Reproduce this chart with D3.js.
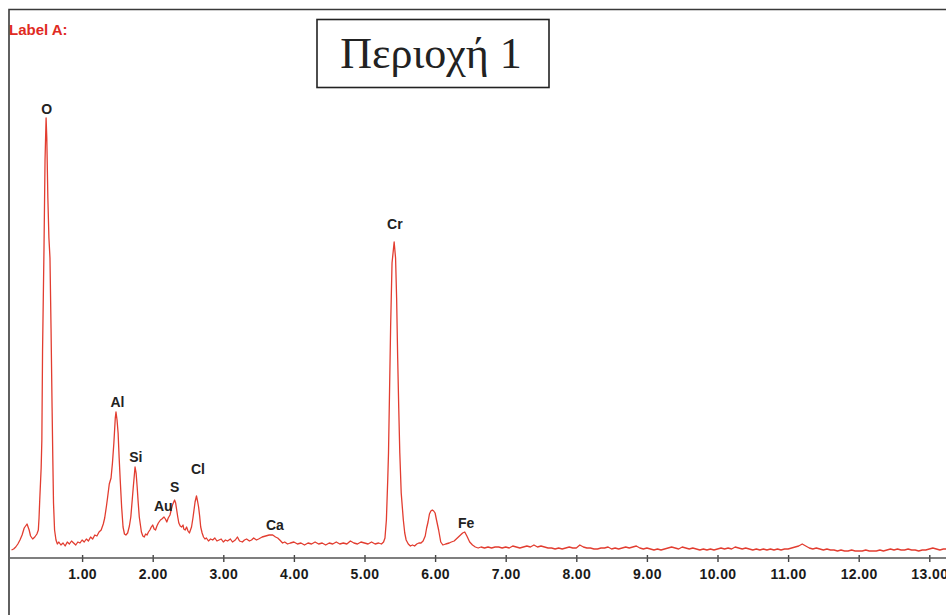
<!DOCTYPE html>
<html>
<head>
<meta charset="utf-8">
<script src="https://cdn.jsdelivr.net/npm/d3@7"></script>
<style>
  body { margin: 0; background: #fff; }
  svg { display: block; }
</style>
</head>
<body>
<script>
'use strict';

// EDS spectrum: energy (keV) and counts
const energy = [
  0.00, 0.03, 0.06, 0.09, 0.12, 0.15, 0.18, 0.22, 0.25, 0.27, 0.30, 0.33, 0.36, 0.38, 0.39, 0.40,
  0.42, 0.43, 0.44, 0.46, 0.475, 0.49, 0.50, 0.515, 0.53, 0.545, 0.56, 0.575, 0.585, 0.595, 0.61,
  0.63, 0.65, 0.67, 0.70, 0.73, 0.76, 0.79, 0.82, 0.85, 0.88, 0.91, 0.94, 0.97, 1.00, 1.03, 1.06,
  1.09, 1.12, 1.15, 1.18, 1.21, 1.24, 1.27, 1.30, 1.32, 1.345, 1.36, 1.385, 1.41, 1.43, 1.45, 1.47,
  1.48, 1.495, 1.51, 1.525, 1.54, 1.56, 1.58, 1.60, 1.62, 1.645, 1.67, 1.69, 1.71, 1.725, 1.75,
  1.765, 1.78, 1.795, 1.81, 1.84, 1.86, 1.88, 1.90, 1.92, 1.94, 1.96, 1.98, 2.00, 2.02, 2.04, 2.06,
  2.08, 2.11, 2.13, 2.16, 2.18, 2.20, 2.22, 2.245, 2.265, 2.28, 2.31, 2.325, 2.34, 2.355, 2.37,
  2.39, 2.41, 2.43, 2.44, 2.46, 2.48, 2.50, 2.52, 2.535, 2.55, 2.57, 2.585, 2.60, 2.62, 2.635, 2.65,
  2.665, 2.68, 2.70, 2.72, 2.74, 2.76, 2.79, 2.82, 2.85, 2.88, 2.91, 2.94, 2.97, 3.00, 3.03, 3.06,
  3.10, 3.13, 3.17, 3.20, 3.23, 3.27, 3.30, 3.33, 3.37, 3.40, 3.43, 3.47, 3.50, 3.55, 3.60, 3.65,
  3.70, 3.74, 3.77, 3.80, 3.84, 3.87, 3.91, 3.95, 4.00, 4.05, 4.10, 4.15, 4.20, 4.25, 4.30, 4.35,
  4.40, 4.45, 4.50, 4.55, 4.60, 4.65, 4.70, 4.75, 4.80, 4.85, 4.90, 4.95, 5.00, 5.05, 5.10, 5.15,
  5.20, 5.24, 5.27, 5.29, 5.31, 5.33, 5.34, 5.355, 5.37, 5.39, 5.42, 5.44, 5.455, 5.47, 5.485, 5.50,
  5.52, 5.55, 5.57, 5.59, 5.62, 5.65, 5.68, 5.71, 5.74, 5.77, 5.80, 5.83, 5.86, 5.88, 5.90, 5.92,
  5.94, 5.96, 5.98, 6.00, 6.02, 6.05, 6.08, 6.11, 6.15, 6.20, 6.23, 6.27, 6.30, 6.33, 6.36, 6.39,
  6.42, 6.45, 6.49, 6.53, 6.57, 6.61, 6.65, 6.70, 6.75, 6.80, 6.85, 6.90, 6.95, 7.00, 7.05, 7.10,
  7.15, 7.20, 7.25, 7.30, 7.35, 7.40, 7.45, 7.50, 7.55, 7.60, 7.65, 7.70, 7.75, 7.80, 7.85, 7.90,
  7.95, 8.00, 8.05, 8.10, 8.15, 8.20, 8.25, 8.30, 8.35, 8.40, 8.45, 8.50, 8.55, 8.60, 8.65, 8.70,
  8.75, 8.80, 8.85, 8.90, 8.95, 9.00, 9.05, 9.10, 9.15, 9.20, 9.25, 9.30, 9.35, 9.40, 9.45, 9.50,
  9.55, 9.60, 9.65, 9.70, 9.75, 9.80, 9.85, 9.90, 9.95, 10.00, 10.05, 10.10, 10.15, 10.20, 10.25,
  10.30, 10.35, 10.40, 10.45, 10.50, 10.55, 10.60, 10.65, 10.70, 10.75, 10.80, 10.85, 10.90, 10.95,
  11.00, 11.05, 11.10, 11.15, 11.20, 11.25, 11.30, 11.35, 11.40, 11.45, 11.50, 11.55, 11.60, 11.65,
  11.70, 11.75, 11.80, 11.85, 11.90, 11.95, 12.00, 12.05, 12.10, 12.15, 12.20, 12.25, 12.30, 12.35,
  12.40, 12.45, 12.50, 12.55, 12.60, 12.65, 12.70, 12.75, 12.80, 12.85, 12.90, 12.95, 13.00, 13.05,
  13.10, 13.15, 13.20, 13.25
];
const counts = [
  8, 9, 11, 14, 18, 23, 30, 34, 28, 22, 19, 21, 24, 28, 40, 58,
  90, 118, 208, 308, 398, 440, 420, 360, 320, 300, 230, 150, 100, 55, 28,
  18, 14, 16, 13, 15, 12, 16, 14, 17, 15, 13, 16, 15, 18, 16, 19,
  17, 21, 19, 23, 22, 26, 28, 34, 40, 52, 60, 74, 80, 95, 115, 140,
  146, 138, 125, 100, 78, 51, 31, 24, 23, 25, 32, 41, 58, 71, 91,
  85, 71, 55, 41, 26, 22, 21, 24, 23, 26, 28, 31, 33, 29, 28, 32,
  35, 38, 39, 41, 39, 36, 40, 43, 49, 53, 58, 55, 48, 41, 35,
  32, 31, 33, 29, 28, 31, 27, 25, 28, 31, 40, 48, 56, 62, 57, 51,
  42, 31, 25, 21, 19, 20, 17, 19, 18, 20, 17, 18, 19, 16, 18, 17,
  19, 16, 18, 21, 17, 16, 18, 19, 17, 18, 20, 18, 19, 21, 22, 23,
  23, 21, 20, 18, 15, 16, 14, 15, 16, 14, 15, 13, 15, 14, 16, 14,
  15, 13, 15, 14, 16, 14, 15, 14, 17, 15, 14, 16, 15, 14, 16, 14,
  15, 14, 16, 20, 38, 80, 105, 168, 231, 295, 316, 300, 260, 200, 150, 105,
  65, 38, 25, 18, 14, 12, 13, 12, 14, 15, 15, 17, 22, 30, 36, 44,
  47, 48, 47, 45, 38, 28, 16, 13, 14, 15, 16, 17, 19, 21, 23, 25,
  26, 22, 16, 13, 11, 10, 11, 10, 11, 10, 11, 11, 10, 11, 10, 12,
  11, 10, 11, 12, 11, 13, 11, 12, 11, 10, 10, 9, 10, 9, 10, 11,
  10, 10, 13, 11, 10, 10, 9, 9, 10, 10, 11, 9, 10, 9, 10, 11,
  10, 11, 12, 10, 9, 10, 9, 8, 9, 8, 9, 10, 11, 10, 9, 11,
  10, 9, 10, 9, 8, 9, 8, 9, 8, 9, 10, 9, 10, 9, 11,
  10, 9, 10, 9, 8, 9, 8, 9, 8, 9, 8, 9, 8, 9,
  9, 10, 11, 12, 14, 12, 10, 9, 10, 9, 8, 9, 8, 8,
  7, 8, 7, 7, 8, 7, 7, 7, 8, 7, 7, 7, 8, 7,
  8, 9, 8, 9, 8, 8, 9, 8, 8, 7, 8, 8, 9, 10,
  9, 8, 9, 9
];

// element labels: name, energy and count where the label sits
const elements = ['O', 'Al', 'Si', 'Au', 'S', 'Cl', 'Ca', 'Cr', 'Fe'];
const elementEnergy = [0.50, 1.50, 1.76, 2.15, 2.31, 2.64, 3.73, 5.43, 6.44];
const elementCounts = [444, 151, 96, 47, 66, 84, 28, 329, 30];

const tickValues = [1, 2, 3, 4, 5, 6, 7, 8, 9, 10, 11, 12, 13];
const chartLabel = 'Label A:';
const regionTitle = 'Περιοχή 1';

const m = {
  width: 946,
  height: 615,
  left: 11.5,
  axisY: 558
};

const svg = d3.select('body')
  .append('svg')
  .attr('width', m.width)
  .attr('height', m.height);

// scales
const xScale = d3.scaleLinear()
  .domain([0, 13])
  .range([m.left, m.left + 13 * 70.6]);

const yScale = d3.scaleLinear()
  .domain([0, 440])
  .range([m.axisY, 118]);

// outer frame (top and left edges only are in view)
svg.append('path')
  .attr('d', 'M9,' + m.height + ' L9,9.5 L' + m.width + ',9.5')
  .attr('fill', 'none')
  .attr('stroke', '#3a3a3a')
  .attr('stroke-width', 1.6);

// red label top left
svg.append('text')
  .attr('x', 9)
  .attr('y', 35)
  .style('font-family', 'Liberation Sans, Arial, sans-serif')
  .style('font-weight', 'bold')
  .style('font-size', '15px')
  .attr('fill', '#e02a22')
  .text(chartLabel);

// title box
svg.append('rect')
  .attr('x', 317)
  .attr('y', 19.5)
  .attr('width', 232)
  .attr('height', 68)
  .attr('fill', '#fff')
  .attr('stroke', '#222')
  .attr('stroke-width', 1.6);

svg.append('text')
  .attr('x', 431)
  .attr('y', 68)
  .attr('text-anchor', 'middle')
  .style('font-family', 'Liberation Serif, Times New Roman, serif')
  .style('font-size', '44px')
  .attr('fill', '#222')
  .text(regionTitle);

// x axis
const xAxis = d3.axisBottom(xScale)
  .tickValues(tickValues)
  .tickFormat(d3.format('.2f'))
  .tickSize(4);

const gx = svg.append('g')
  .attr('transform', 'translate(0,' + m.axisY + ')')
  .call(xAxis);

gx.select('.domain').remove();
gx.selectAll('.tick line')
  .attr('y1', -3)
  .attr('y2', 4)
  .attr('stroke', '#444')
  .attr('stroke-width', 1.4);
gx.selectAll('.tick text')
  .attr('y', 11)
  .attr('fill', '#1a1a1a')
  .style('font-family', 'Liberation Sans, Arial, sans-serif')
  .style('font-weight', 'bold')
  .style('font-size', '14px')
  .style('letter-spacing', '0.4px');

svg.append('line')
  .attr('x1', 10)
  .attr('x2', m.width)
  .attr('y1', m.axisY)
  .attr('y2', m.axisY)
  .attr('stroke', '#555')
  .attr('stroke-width', 1.5);

// spectrum
const spectrum = energy.map((e, i) => ({ e: e, c: counts[i] }));

const line = d3.line()
  .x((d) => xScale(d.e))
  .y((d) => yScale(d.c));

svg.append('path')
  .datum(spectrum)
  .attr('d', line)
  .attr('fill', 'none')
  .attr('stroke', '#e23d30')
  .attr('stroke-width', 1.3)
  .attr('stroke-linejoin', 'round');

// element labels
svg.selectAll('.el')
  .data(elements)
  .enter()
  .append('text')
  .attr('class', 'el')
  .attr('x', (d, i) => xScale(elementEnergy[i]))
  .attr('y', (d, i) => yScale(elementCounts[i]))
  .attr('text-anchor', 'middle')
  .style('font-family', 'Liberation Sans, Arial, sans-serif')
  .style('font-weight', 'bold')
  .style('font-size', '14px')
  .attr('fill', '#222')
  .text((d) => d);
</script>
</body>
</html>
